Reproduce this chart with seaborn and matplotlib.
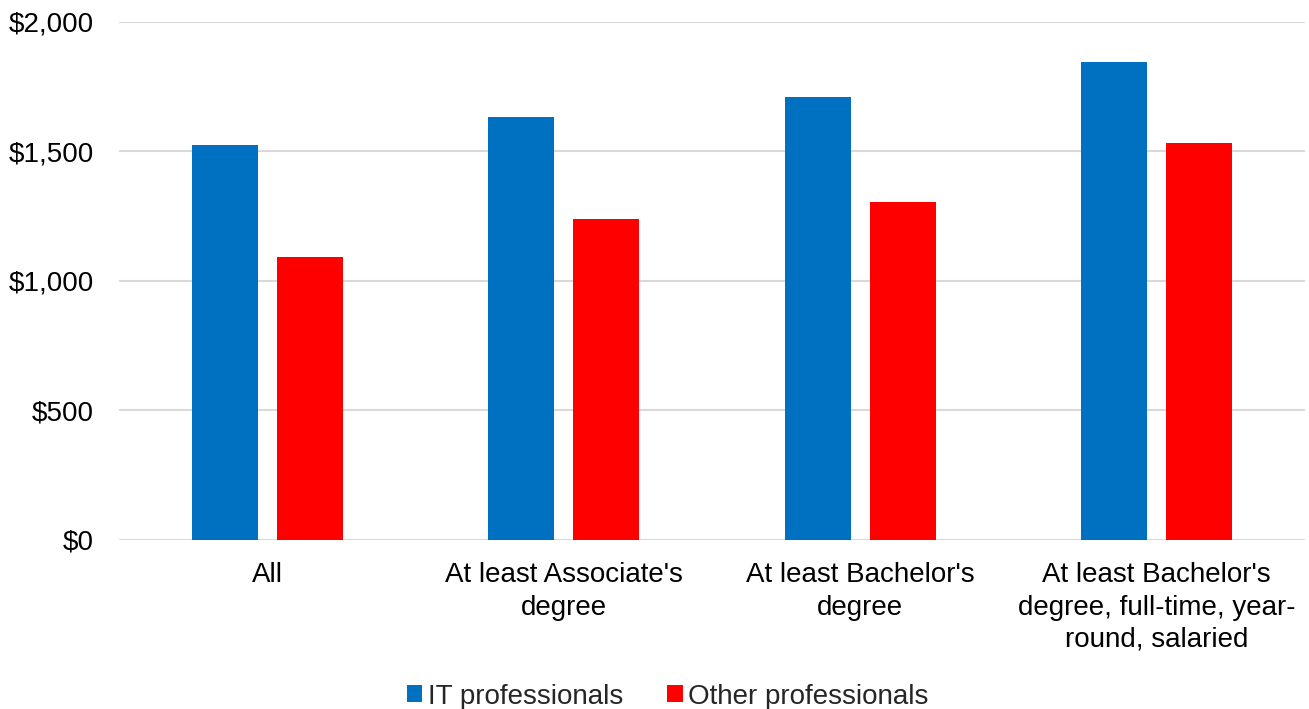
import matplotlib
matplotlib.use("Agg")
import matplotlib.pyplot as plt
import matplotlib.ticker as mticker
import seaborn as sns
import pandas as pd

categories = [
    "All",
    "At least Associate's\ndegree",
    "At least Bachelor's\ndegree",
    "At least Bachelor's\ndegree, full-time, year-\nround, salaried",
]
it_professionals = [1524, 1634, 1710, 1847]
other_professionals = [1094, 1238, 1304, 1534]
series_names = ["IT professionals", "Other professionals"]
y_ticks = [0, 500, 1000, 1500, 2000]

df = pd.DataFrame({
    "category": categories * 2,
    "group": [series_names[0]] * 4 + [series_names[1]] * 4,
    "value": it_professionals + other_professionals,
})

sns.set_theme(style="white")
plt.rcParams["font.family"] = ["Liberation Sans", "DejaVu Sans"]

fig = plt.figure(figsize=(13.09, 7.09), dpi=100)
ax = fig.add_axes([0.0909, 0.2384, 0.9061, 0.7306])

palette = {series_names[0]: "#0070C0", series_names[1]: "#FF0000"}
sns.barplot(data=df, x="category", y="value", hue="group", palette=palette,
            order=categories, hue_order=series_names,
            width=0.573, gap=0.224, linewidth=0, saturation=1,
            ax=ax, legend=True, zorder=3)

ax.set_ylim(0, 2000)
ax.set_xlim(-0.5, len(categories) - 0.5)
ax.set_yticks(y_ticks)
ax.yaxis.set_major_formatter(mticker.FuncFormatter(lambda v, p: f"${v:,.0f}"))
ax.grid(axis="y", color="#d9d9d9", linewidth=1.5, zorder=0)
ax.set_axisbelow(True)
for s in ax.spines.values():
    s.set_visible(False)
ax.set_xlabel("")
ax.set_ylabel("")
ax.tick_params(axis="both", length=0, labelsize=20, colors="#000000")
ax.tick_params(axis="x", pad=16)
ax.tick_params(axis="y", pad=18)
for lbl in ax.get_xticklabels():
    lbl.set_linespacing(1.32)

handles, labels = ax.get_legend_handles_labels()
ax.get_legend().remove()
fig.legend(handles, labels, loc="lower center", bbox_to_anchor=(0.510, -0.036),
           ncol=2, frameon=False, fontsize=20, handlelength=0.55,
           handleheight=0.55, handletextpad=0.2, columnspacing=1.6)

fig.savefig("out.png", dpi=100, facecolor="white")
